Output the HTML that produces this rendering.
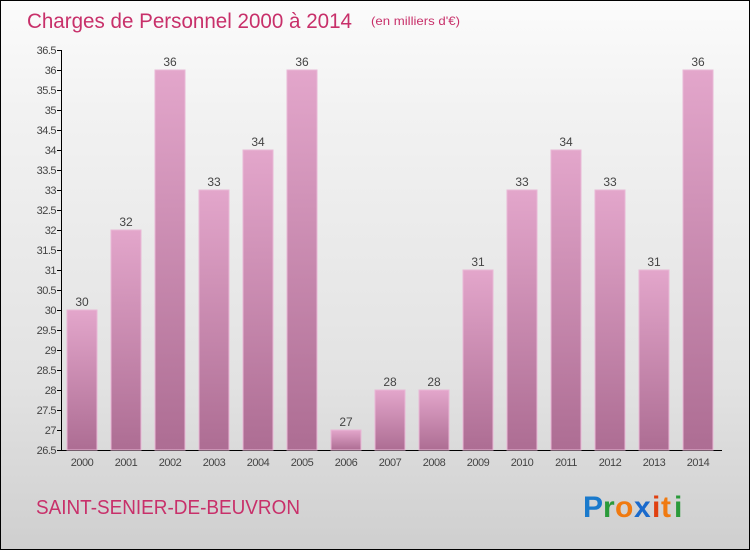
<!DOCTYPE html>
<html><head><meta charset="utf-8"><style>
html,body{margin:0;padding:0}
body{width:750px;height:550px;overflow:hidden;font-family:"Liberation Sans",sans-serif}
#wrap{position:absolute;left:0;top:0;width:748px;height:548px;border:1px solid #000;background:linear-gradient(#fbfbfb,#f2f2f2 20%,#e2e2e2 70%,#cfcfcf)}
</style></head><body>
<div id="wrap">
<svg width="750" height="550" style="position:absolute;left:-1px;top:-1px">
<defs><linearGradient id="bg" x1="0" y1="0" x2="0" y2="1"><stop offset="0" stop-color="#e3a6cb"/><stop offset="1" stop-color="#ad6d93"/></linearGradient></defs>
<text x="27" y="28" font-size="21" fill="#c8306a" textLength="325" lengthAdjust="spacingAndGlyphs">Charges de Personnel 2000 à 2014</text>
<text x="371" y="25" font-size="12" fill="#c8306a" textLength="89" lengthAdjust="spacingAndGlyphs">(en milliers d'€)</text>
<g id="axes"></g><g id="bars"></g>
<text x="36" y="514" font-size="20" fill="#c8306a" textLength="264" lengthAdjust="spacingAndGlyphs">SAINT-SENIER-DE-BEUVRON</text>
<g font-size="30" font-weight="bold" font-family="'Liberation Sans',sans-serif">
<text x="583" y="517" fill="#1a7acc">P</text><text x="603" y="517" fill="#2a9a3a">r</text><text x="615" y="517" fill="#f07a10">o</text><text x="634" y="517" fill="#1a6acc">x</text><text x="652" y="517" fill="#e04010">i</text><text x="661" y="517" fill="#f07a10">t</text><text x="674" y="517" fill="#2a9a3a">i</text>
</g>
</svg></div>
<script>
const years=["2000","2001","2002","2003","2004","2005","2006","2007","2008","2009","2010","2011","2012","2013","2014"];
const values=[30,32,36,33,34,36,27,28,28,31,33,34,33,31,36];
const ticks=[26.5,27,27.5,28,28.5,29,29.5,30,30.5,31,31.5,32,32.5,33,33.5,34,34.5,35,35.5,36,36.5];
const NS="http://www.w3.org/2000/svg";
const y=v=>450-(v-26.5)*40;
const x=i=>82+i*44;
function mk(t,a,p){const e=document.createElementNS(NS,t);for(const k in a)e.setAttribute(k,a[k]);p.appendChild(e);return e;}
const ax=document.getElementById('axes'),bg=document.getElementById('bars');
const yl=mk('line',{x1:61.5,y1:50,x2:61.5,y2:450.5,stroke:'#000'},ax);


const xl=mk('line',{x1:61,y1:450.5,x2:722,y2:450.5,stroke:'#000'},ax);


ticks.forEach(t=>{
 mk('line',{x1:57,x2:62,y1:y(t)+.5,y2:y(t)+.5,stroke:'#000'},ax);
 const tx=mk('text',{x:56,y:y(t)+4,'font-size':11,'text-anchor':'end',fill:'#444','letter-spacing':'-0.5'},ax);
 tx.textContent=String(t);
 
 
});
years.forEach((yr,i)=>{
 const r=mk('rect',{x:x(i)-15,y:y(values[i]),width:30,height:450-y(values[i]),fill:'url(#bg)',stroke:'#e9b8d6','stroke-width':1},bg);
 
 
 const v=mk('text',{x:x(i),y:y(values[i])-4,'font-size':12,'text-anchor':'middle',fill:'#444'},bg);
 v.textContent=values[i];
 
 
 const l=mk('text',{x:x(i),y:466,'font-size':11,'text-anchor':'middle',fill:'#444','letter-spacing':'-0.5'},bg);
 l.textContent=yr;
 
 
});
</script>
</body></html>
